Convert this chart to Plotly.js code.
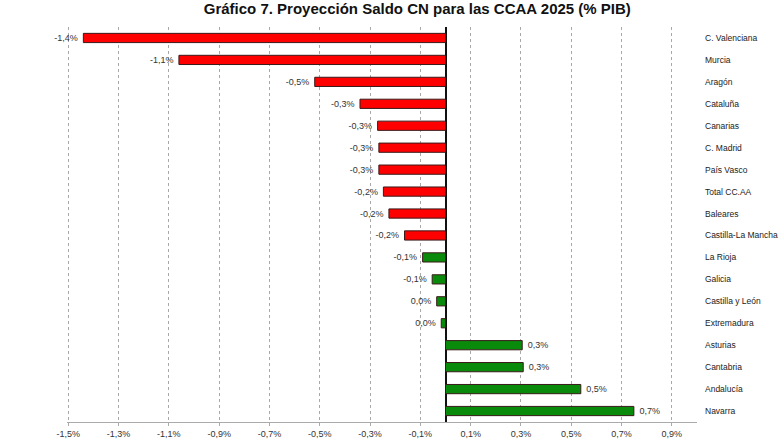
<!DOCTYPE html>
<html>
<head>
<meta charset="utf-8">
<script src="https://cdn.plot.ly/plotly-3.0.1.min.js"></script>
<style>html,body{margin:0;padding:0;background:#fff;}#chart{width:780px;height:440px;}</style>
</head>
<body>
<div id="chart"></div>
<script>
const regions = ["C. Valenciana","Murcia","Aragón","Cataluña","Canarias","C. Madrid","País Vasco","Total CC.AA","Baleares","Castilla-La Mancha","La Rioja","Galicia","Castilla y León","Extremadura","Asturias","Cantabria","Andalucía","Navarra"];
const saldo = [-1.44,-1.06,-0.52,-0.34,-0.27,-0.265,-0.265,-0.247,-0.225,-0.163,-0.091,-0.053,-0.035,-0.017,0.305,0.309,0.538,0.749];
const labels = ["-1,4%","-1,1%","-0,5%","-0,3%","-0,3%","-0,3%","-0,3%","-0,2%","-0,2%","-0,2%","-0,1%","-0,1%","0,0%","0,0%","0,3%","0,3%","0,5%","0,7%"];
const barColors = ["#ff0000","#ff0000","#ff0000","#ff0000","#ff0000","#ff0000","#ff0000","#ff0000","#ff0000","#ff0000","#0a8a0a","#0a8a0a","#0a8a0a","#0a8a0a","#0a8a0a","#0a8a0a","#0a8a0a","#0a8a0a"];
const tickVals = [-1.5,-1.3,-1.1,-0.9,-0.7,-0.5,-0.3,-0.1,0.1,0.3,0.5,0.7,0.9];
const tickText = ["-1,5%","-1,3%","-1,1%","-0,9%","-0,7%","-0,5%","-0,3%","-0,1%","0,1%","0,3%","0,5%","0,7%","0,9%"];

const NB = "\u00a0";
const shownText = labels.map((t, i) => saldo[i] < 0 ? t + NB : NB + t);

const trace = {
  type: "bar",
  orientation: "h",
  y: regions,
  x: saldo,
  text: shownText,
  textposition: "outside",
  cliponaxis: false,
  constraintext: "none",
  textfont: {family: "Liberation Sans, Arial, sans-serif", size: 9, color: "#333"},
  marker: {color: barColors, line: {color: "#3a1a1a", width: 1}},
  width: 0.42,
  hoverinfo: "skip"
};

const layout = {
  width: 780, height: 440,
  margin: {l: 67, r: 83, t: 27, b: 18},
  paper_bgcolor: "#fff", plot_bgcolor: "#fff",
  showlegend: false,
  font: {family: "Liberation Sans, Arial, sans-serif", size: 9, color: "#333"},
  title: {
    text: "Gráfico 7. Proyección Saldo CN para las CCAA 2025 (% PIB)",
    font: {family: "Liberation Sans, Arial, sans-serif", size: 15, color: "#111", weight: "bold"},
    x: 0.535, xanchor: "center", xref: "container",
    y: 0.98, yanchor: "middle", yref: "container"
  },
  xaxis: {
    range: [-1.505, 1.0],
    tickvals: tickVals, ticktext: tickText,
    showgrid: true, gridcolor: "#a8a8a8", griddash: "dot", gridwidth: 1,
    zeroline: true, zerolinecolor: "#111", zerolinewidth: 2,
    showline: true, linecolor: "#aaa", linewidth: 1,
    ticks: "outside", ticklen: 3, tickcolor: "#aaa",
    tickfont: {size: 9, color: "#333"},
    automargin: false, fixedrange: true
  },
  yaxis: {
    type: "category",
    autorange: "reversed",
    side: "right",
    showgrid: false, zeroline: false, showline: false,
    ticks: "", ticklabelstandoff: 7,
    tickfont: {size: 8.5, color: "#222"},
    automargin: false, fixedrange: true
  }
};

Plotly.newPlot("chart", [trace], layout, {displayModeBar: false, staticPlot: true});
</script>
</body>
</html>
